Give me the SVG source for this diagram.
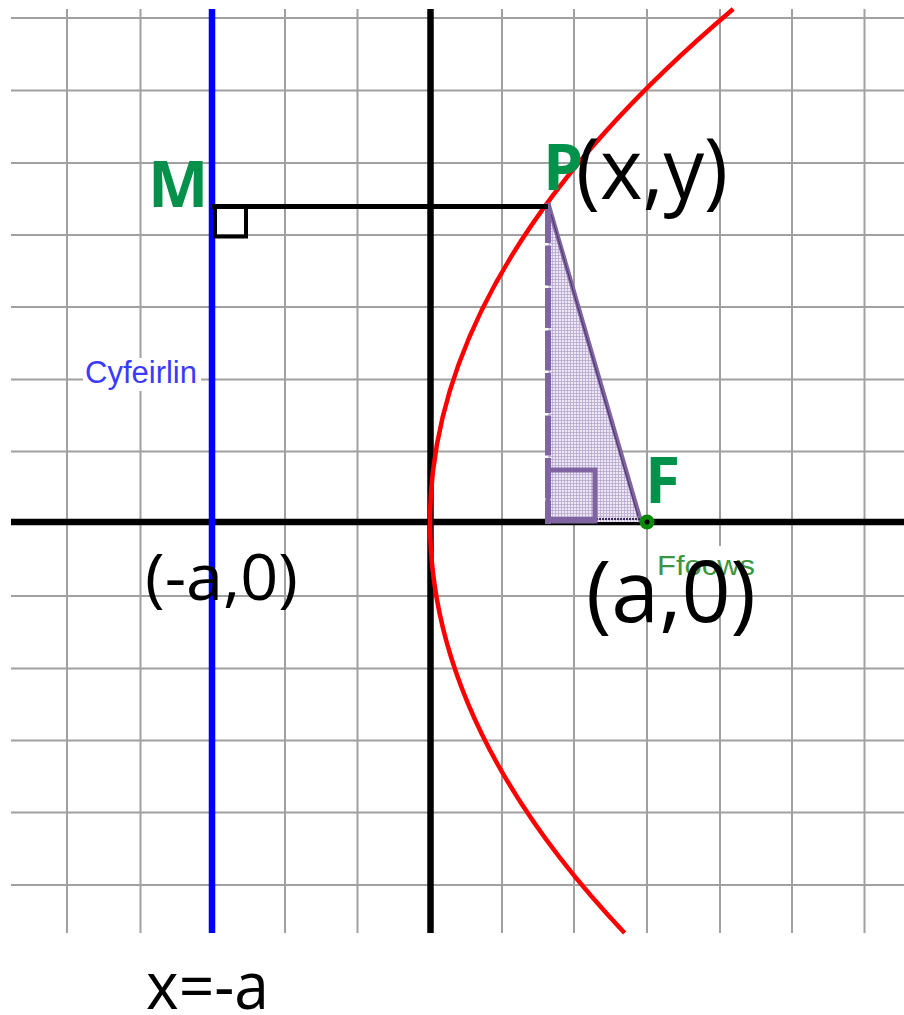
<svg xmlns="http://www.w3.org/2000/svg" width="904" height="1015" viewBox="0 0 904 1015">
<defs>
<style>
.grid line{stroke:#a0a0a0;stroke-width:2}
.axis{stroke:#000;stroke-width:6.5}
.lbl{font-family:"Open Sans","Liberation Sans",sans-serif;fill:#000}
.pt{font-family:"Open Sans","Liberation Sans",sans-serif;font-weight:bold;fill:#00924A;font-size:64px}
.purple{stroke:#8064A2;fill:none}
</style>
<pattern id="hatch" width="3" height="3" patternUnits="userSpaceOnUse">
<rect width="3" height="3" fill="#ece7f3"/>
<path d="M0 0.5H3M0.5 0V3" stroke="#b8a8cf" stroke-width="0.8"/>
</pattern>
</defs>
<rect width="904" height="1015" fill="#fff"/>
<g id="grid" class="grid">
<line x1="11" y1="18" x2="904" y2="18"/>
<line x1="11" y1="90.5" x2="904" y2="90.5"/>
<line x1="11" y1="163" x2="904" y2="163"/>
<line x1="11" y1="235" x2="904" y2="235"/>
<line x1="11" y1="307" x2="904" y2="307"/>
<line x1="11" y1="379.5" x2="904" y2="379.5"/>
<line x1="11" y1="451.5" x2="904" y2="451.5"/>
<line x1="11" y1="596" x2="904" y2="596"/>
<line x1="11" y1="668.5" x2="904" y2="668.5"/>
<line x1="11" y1="740.5" x2="904" y2="740.5"/>
<line x1="11" y1="812.5" x2="904" y2="812.5"/>
<line x1="11" y1="885" x2="904" y2="885"/>
<line x1="67" y1="9" x2="67" y2="933"/>
<line x1="140.5" y1="9" x2="140.5" y2="933"/>
<line x1="285" y1="9" x2="285" y2="933"/>
<line x1="357.5" y1="9" x2="357.5" y2="933"/>
<line x1="502" y1="9" x2="502" y2="933"/>
<line x1="574" y1="9" x2="574" y2="933"/>
<line x1="647" y1="9" x2="647" y2="933"/>
<line x1="720" y1="9" x2="720" y2="933"/>
<line x1="792" y1="9" x2="792" y2="933"/>
<line x1="864.5" y1="9" x2="864.5" y2="933"/>
</g>
<rect x="83" y="358" width="118" height="33" fill="#fff"/>
<rect x="652" y="546" width="108" height="36" fill="#fff"/>
<g id="axes">
<line class="axis" x1="11" y1="522" x2="904" y2="522"/>
<line class="axis" x1="430.5" y1="9" x2="430.5" y2="933"/>
</g>
<g id="directrix">
<line x1="212" y1="9" x2="212" y2="933" stroke="#0000ff" stroke-width="6.5"/>
<text x="85" y="383" font-family="Liberation Sans,Arial,sans-serif" font-size="31" fill="#3a3aff">Cyfeirlin</text>
</g>
<g id="parabola">
<path d="M733.2 9 Q187.1 471 624.6 933" fill="none" stroke="#ff0000" stroke-width="4.5"/>
</g>
<g id="triangle">
<polygon points="548,203 548,522 641,522" fill="url(#hatch)"/>
<line class="purple" x1="548" y1="203" x2="641" y2="522" stroke-width="4.5"/>
<line x1="551" y1="214" x2="638" y2="516" stroke="#3c2c55" stroke-width="0.8"/>
<line class="purple" x1="548" y1="203" x2="548" y2="524" stroke-width="6" stroke-dasharray="40 2.5"/>
<line class="purple" x1="545" y1="520" x2="596" y2="520" stroke-width="6"/>
<line x1="596" y1="519" x2="640" y2="519" stroke="#3c2c55" stroke-width="2" stroke-dasharray="2 1"/>
<rect class="purple" x="548" y="470" width="47" height="51" stroke-width="5"/>
</g>
<g id="connectors">
<line x1="212" y1="206.5" x2="548" y2="206.5" stroke="#000" stroke-width="5"/>
<rect x="215" y="206.5" width="31" height="30" fill="none" stroke="#000" stroke-width="4"/>
</g>
<g id="node-M">
<text class="pt" x="148" y="207">M</text>
</g>
<g id="node-P">
<text class="pt" x="543" y="190">P</text>
<text class="lbl" x="576" y="199" font-size="84" textLength="152" lengthAdjust="spacingAndGlyphs">(x,y)</text>
</g>
<g id="node-F">
<circle cx="647" cy="522" r="7.5" fill="#0a8a0a"/>
<circle cx="647" cy="522" r="2.5" fill="#000"/>
<text class="pt" x="645" y="503">F</text>
<text x="657" y="575" font-family="Liberation Sans,Arial,sans-serif" font-size="28" fill="#3c963c" textLength="98" lengthAdjust="spacingAndGlyphs">Ffocws</text>
<text class="lbl" x="586" y="622" font-size="86" textLength="170" lengthAdjust="spacingAndGlyphs">(a,0)</text>
</g>
<g id="node-A">
<text class="lbl" x="145" y="600" font-size="64" textLength="153" lengthAdjust="spacingAndGlyphs">(-a,0)</text>
</g>
<g id="label-directrix">
<text class="lbl" x="146" y="1009" font-size="66" textLength="123" lengthAdjust="spacingAndGlyphs">x=-a</text>
</g>
</svg>
